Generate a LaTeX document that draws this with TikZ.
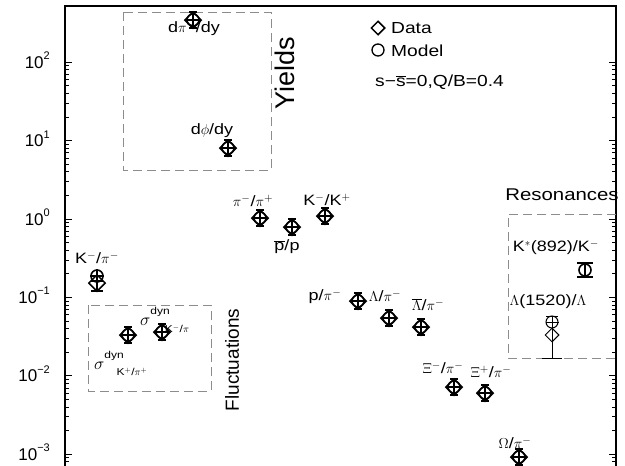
\documentclass[tikz,border=0pt]{standalone}
\usepackage{fontspec}
\setmainfont{Liberation Sans}
\newfontfamily\wide[FakeStretch=1.2]{Liberation Sans}
\usetikzlibrary{shapes.geometric,calc}
\newcommand\dmk[3]{%
  \node[dmark] (#1d) at (#2,#3) {};
  \node[cmark] (#1) at (#2,#3) {};
  \draw[ebar] (#1.west) -- (#1.east);
  \draw[ebar] ($(#1)+(0,-8)$) -- ($(#1)+(0,8)$);
  \draw[ebar] ($(#1)+(-4,-8)$) -- ($(#1)+(4,-8)$);
  \draw[ebar] ($(#1)+(-4,8)$) -- ($(#1)+(4,8)$);
}
\begin{document}
\begin{tikzpicture}[x=1pt,y=-1pt,
  dmark/.style={diamond, draw, line width=1.5pt, minimum size=17pt, inner sep=0pt},
  cmark/.style={circle, draw, line width=1.6pt, minimum size=12pt, inner sep=0pt},
  ebar/.style={line width=1.2pt},
  lbl/.style={font=\wide\fontsize{15}{18}\selectfont, inner sep=0pt},
  sml/.style={font=\wide\fontsize{10}{12}\selectfont, inner sep=0pt},
  axl/.style={font=\fontsize{17}{20}\selectfont, inner sep=0pt, anchor=base east},
  box/.style={draw=black!45, line width=1pt, dash pattern=on 9pt off 5pt},
  frame/.style={line width=1.3pt},
  tick/.style={line width=0.7pt}]
\useasboundingbox (0,0) rectangle (625,466);
% frame
\draw[frame] (65,466) -- (65,6) -- (616,6) -- (616,466);
% ticks
\foreach \d in {-3,...,2}{
  \pgfmathsetmacro\yy{219-78.4*\d}
  \draw[tick] (65,\yy) -- (72,\yy);
  \draw[tick] (616,\yy) -- (609,\yy);
}
\foreach \d in {-3,...,1}{
  \foreach \k in {2,...,9}{
    \pgfmathsetmacro\yy{219-78.4*(\d+log10(\k))}
    \draw[tick] (65,\yy) -- (69,\yy);
    \draw[tick] (616,\yy) -- (612,\yy);
  }
}
\foreach \k in {8,9}{
  \pgfmathsetmacro\yy{219-78.4*(-4+log10(\k))}
  \draw[tick] (65,\yy) -- (69,\yy);
  \draw[tick] (616,\yy) -- (612,\yy);
}
% axis labels
\node[axl] (t2) at (50,68.2) {10\raisebox{0.5em}{\fontsize{11}{12}\selectfont 2}};
\node[axl] (t1) at (50,146.6) {10\raisebox{0.5em}{\fontsize{11}{12}\selectfont 1}};
\node[axl] (t0) at (50,225) {10\raisebox{0.5em}{\fontsize{11}{12}\selectfont 0}};
\node[axl] (tm1) at (50,303.4) {10\raisebox{0.5em}{\fontsize{11}{12}\selectfont −1}};
\node[axl] (tm2) at (50,381.8) {10\raisebox{0.5em}{\fontsize{11}{12}\selectfont −2}};
\node[axl] (tm3) at (50,460.2) {10\raisebox{0.5em}{\fontsize{11}{12}\selectfont −3}};
% dashed boxes
\draw[box] (123,12) rectangle (271,170);
\draw[box] (88,305) rectangle (211,391);
\draw[box] (616,214) -- (508,214) -- (508,358) -- (616,358);
% group titles
\node[rotate=90, font=\fontsize{27}{30}\selectfont, inner sep=0pt] (yields) at (285,73) {Yields};
\node[rotate=90, font=\fontsize{19}{22}\selectfont, inner sep=0pt] (fluct) at (232,360) {Fluctuations};
\node[font=\wide\fontsize{17}{20}\selectfont, inner sep=0pt] (reson) at (562,195) {Resonances};
% legend
\node[diamond, draw, line width=1.5pt, minimum size=14pt, inner sep=0pt] (legd) at (378,28) {};
\node[font=\wide\fontsize{16}{19}\selectfont, inner sep=0pt, anchor=west] (legdt) at (391,28) {Data};
\node[circle, draw, line width=1.3pt, minimum size=12pt, inner sep=0pt] (legc) at (378,50) {};
\node[font=\wide\fontsize{16}{19}\selectfont, inner sep=0pt, anchor=west] (legct) at (391,51) {Model};
\node[font=\wide\fontsize{16}{19}\selectfont, inner sep=0pt, anchor=west] (legs) at (375,82) {s−$\overline{\mbox{s}}$=0,Q/B=0.4};
% data labels
\node[lbl] (l1) at (194,28) {d$\pi^-$/dy};
\node[lbl] (l2) at (212,131) {d$\phi$/dy};
\node[lbl] (l3) at (253,201) {$\pi^-$/$\pi^+$};
\node[lbl] (l4) at (287,247) {$\overline{\mbox{p}}$/p};
\node[lbl] (l5) at (327,200) {K$^-$/K$^+$};
\node[lbl] (l6) at (97,258) {K$^-$/$\pi^-$};
\node[lbl] (l7) at (325,296) {p/$\pi^-$};
\node[lbl] (l8) at (385,296) {$\Lambda$/$\pi^-$};
\node[lbl] (l9) at (428,305) {$\overline{\Lambda}$/$\pi^-$};
\node[lbl] (l10) at (443,368) {$\Xi^-$/$\pi^-$};
\node[lbl] (l11) at (491,372) {$\Xi^+$/$\pi^-$};
\node[lbl] (l12) at (515,443) {$\Omega$/$\pi^-$};
\node[lbl] (l13) at (556,247) {K$^*$(892)/K$^-$};
\node[lbl] (l14) at (548,302) {$\Lambda$(1520)/$\Lambda$};
% fluctuation labels
\node[font=\fontsize{17}{20}\selectfont, inner sep=0pt, anchor=base west] (s1) at (140,325) {$\sigma$\raisebox{0.6em}{\wide\fontsize{10}{12}\selectfont dyn}};
\node[sml] (s1l) at (177,329) {K$^-$/$\pi$};
\node[font=\fontsize{17}{20}\selectfont, inner sep=0pt, anchor=base west] (s2) at (94,369) {$\sigma$\raisebox{0.6em}{\wide\fontsize{10}{12}\selectfont dyn}};
\node[sml] (s2l) at (132,372) {K$^+$/$\pi^+$};
% markers
\dmk{m1}{193}{20}
\dmk{m2}{228}{148}
\dmk{m3}{260}{218}
\dmk{m4}{292}{227}
\dmk{m5}{325}{216}
\dmk{m7}{358}{301}
\dmk{m8}{389}{318}
\dmk{m9}{421}{327}
\dmk{m10}{454}{387}
\dmk{m11}{485}{393}
\dmk{m12}{519}{457}
\dmk{m15}{128}{335}
\dmk{m16}{162}{332}
% K-/pi-: circle above diamond
\node[dmark] (m6d) at (97,283) {};
\node[cmark] (m6) at (97,276) {};
\draw[ebar] (m6.west) -- (m6.east);
\draw[ebar] ($(m6d)+(0,-14)$) -- ($(m6d)+(0,8)$);
\draw[ebar] ($(m6d)+(-6,8)$) -- ($(m6d)+(6,8)$);
\draw[ebar] ($(m6d)+(-6,-2)$) -- ($(m6d)+(6,-2)$);
% K*(892)/K-
\node[cmark] (m13) at (585,270) {};
\draw[line width=1.5pt] ($(m13)+(0,-7)$) -- ($(m13)+(0,7)$);
\draw[line width=1.6pt] ($(m13)+(-8,-7)$) -- ($(m13)+(8,-7)$);
\draw[line width=1.6pt] ($(m13)+(-8,7)$) -- ($(m13)+(8,7)$);
% Lambda(1520)/Lambda
\node[circle, draw, line width=1pt, minimum size=12pt, inner sep=0pt] (m14) at (552,322) {};
\node[diamond, draw, line width=1pt, minimum size=14pt, inner sep=0pt] (m14d) at (552,335) {};
\draw[line width=1pt] (m14.west) -- (m14.east);
\draw[line width=1pt] ($(m14)+(-6,-6)$) -- ($(m14)+(6,-6)$);
\draw[line width=1pt] (m14.north) -- ($(m14d.south)+(0,16)$);
\coordinate (m14b) at ($(m14d.south)+(0,16)$);
\draw[line width=1.5pt] ($(m14b)+(-10,0)$) -- ($(m14b)+(10,0)$);
\end{tikzpicture}
\end{document}
